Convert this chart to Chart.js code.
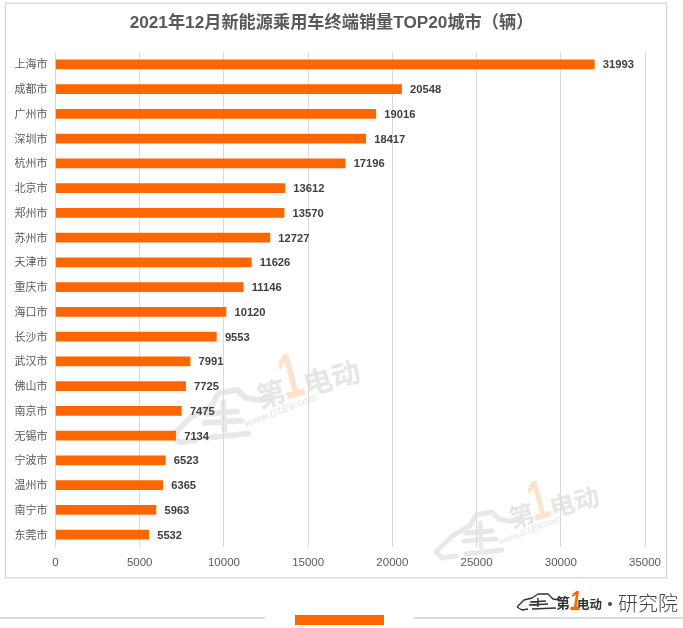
<!DOCTYPE html>
<html><head><meta charset="utf-8">
<style>
html,body{margin:0;padding:0;width:683px;height:628px;overflow:hidden;background:#fff}
#frame{position:absolute;left:5px;top:3px;width:660px;height:573px;border:1px solid #d9d9d9;box-shadow:0 0 0 .5px #e4e4e4}
canvas{position:absolute;left:14px;top:0}
.bar{position:absolute;background:#dcdcdc;height:2px;top:617px}
#tag{position:absolute;left:295px;top:615px;width:89px;height:10px;background:#ff6600}
svg.deco{position:absolute;left:0;top:0;pointer-events:none}
</style>
<script src="https://cdn.jsdelivr.net/npm/chart.js@4/dist/chart.umd.min.js"></script>
</head><body>
<div id="frame"></div>
<svg class="deco" width="683" height="628" font-family="'Noto Sans CJK SC'">
  <defs>
    <g id="car">
      <path d="M-76 24 L-60 8 L-42 -2 L-36 -13 L-20 -16 L-13 -9 L-2 -7 L8 -8 M-76 24 L-70 30 L-56 28 M-46 26 L-10 22 M-46 5 L-20 3 M-48 13 L-16 11 M-32 -5 L-31 19" fill="none" stroke="#e8e8e8" stroke-width="5" stroke-linecap="round" stroke-linejoin="round"/>
    </g>
    <g id="word">
      <text x="0" y="0" font-size="25" font-weight="700" fill="#e6e6e6">第</text>
      <text transform="translate(23,-1) scale(.62,1)" font-size="56" font-weight="700" font-family="'Liberation Sans'" fill="#fde2cd">1</text>
      <text x="42" y="0" font-size="25" font-weight="700" fill="#e6e6e6">电动</text>
      <text transform="translate(-16,13) rotate(-6)" font-size="9" font-style="italic" font-weight="700" font-family="'Liberation Sans'" fill="#ebebeb">www.D1EV.com</text>
    </g>
  </defs>
  <g transform="translate(260,408) scale(1.15)"><use href="#car"/><g transform="rotate(-15)"><use href="#word"/></g></g>
  <g transform="translate(512,528)"><use href="#car"/><g transform="rotate(-15)"><use href="#word"/></g></g>
</svg>
<canvas id="c" width="669" height="628"></canvas>
<div class="bar" style="left:0;width:265px"></div>
<div id="tag"></div>
<div class="bar" style="left:414px;width:269px"></div>
<svg class="deco" width="683" height="628" font-family="'Noto Sans CJK SC'">
  <path d="M517 607 L524 600 L532 598 L538 594 L548 594 L553 599 L560 600 M517 607 L522 610 L528 609 M532 609 L556 608 M530 602 L546 601 M529 605 L548 604 M538 598 L538 607" fill="none" stroke="#333" stroke-width="1.4" stroke-linejoin="round"/>
  <text x="556" y="608" font-size="14" font-weight="700" fill="#333">第</text>
  <text transform="translate(570,610) scale(.7,1)" font-size="28" font-weight="700" font-style="italic" font-family="'Liberation Sans'" fill="#ff6600">1</text>
  <text x="577" y="609" font-size="12.5" font-weight="700" fill="#333">电动</text>
  <circle cx="610" cy="604" r="2" fill="#444"/>
  <text x="618" y="611" font-size="20" font-weight="300" fill="#444">研究院</text>
</svg>
<script>
const categories = ["上海市","成都市","广州市","深圳市","杭州市","北京市","郑州市","苏州市","天津市","重庆市","海口市","长沙市","武汉市","佛山市","南京市","无锡市","宁波市","温州市","南宁市","东莞市"];
const salesValues = [31993,20548,19016,18417,17196,13612,13570,12727,11626,11146,10120,9553,7991,7725,7475,7134,6523,6365,5963,5532];
const chartTitle = "2021年12月新能源乘用车终端销量TOP20城市（辆）";
const FONT = '"Liberation Sans","Noto Sans CJK SC",sans-serif';

const valueLabels = {
  id:'valueLabels',
  afterLayout(chart){ chart.titleBlock.left = 4; },
  afterDatasetsDraw(chart){
    const {ctx} = chart;
    ctx.save();
    ctx.font = 'bold 11.2px '+FONT;
    ctx.fillStyle = '#404040';
    ctx.textBaseline = 'middle';
    chart.getDatasetMeta(0).data.forEach((el,i)=>{
      ctx.fillText(String(salesValues[i]), el.x+8.5, el.y+1);
    });
    ctx.restore();
  }
};

new Chart(document.getElementById('c'),{
  type:'bar',
  data:{labels:categories,datasets:[{data:salesValues,backgroundColor:'#ff6600',barThickness:9}]},
  plugins:[valueLabels],
  options:{
    indexAxis:'y',responsive:false,animation:false,devicePixelRatio:1,
    layout:{padding:{left:0,right:38,top:0,bottom:0}},
    plugins:{
      legend:{display:false},tooltip:{enabled:false},
      title:{display:true,text:chartTitle,color:'#595959',
        font:{family:FONT,size:17.2,weight:'bold',lineHeight:1.2},
        padding:{top:13,bottom:18.4}}
    },
    scales:{
      x:{min:0,max:35000,
        ticks:{stepSize:5000,color:'#595959',font:{family:FONT,size:11.5},padding:9,maxRotation:0,
          callback:v=>String(v)},
        grid:{color:'#d9d9d9',drawTicks:false,lineWidth:1},
        border:{display:false},
        afterFit(s){s.height=81;}
      },
      y:{
        ticks:{color:'#595959',font:{family:FONT,size:11},padding:8,labelOffset:1},
        grid:{display:false,drawTicks:false},
        border:{display:true,color:'#d9d9d9'},
        afterFit(s){s.width=41.5;}
      }
    }
  }
});
</script>
</body></html>
